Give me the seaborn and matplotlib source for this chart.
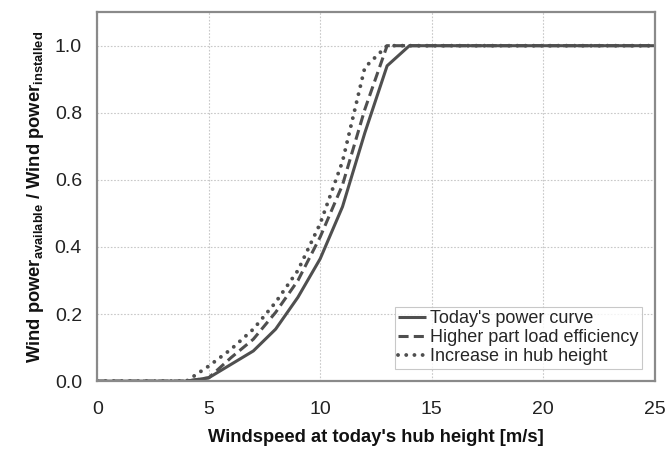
import matplotlib
matplotlib.use("Agg")
import matplotlib.pyplot as plt
import seaborn as sns
import pandas as pd

windspeed = list(range(0, 26))
todays_curve = [0, 0, 0, 0, 0, 0.01, 0.05, 0.09, 0.155, 0.25, 0.365, 0.52, 0.74, 0.94,
                1, 1, 1, 1, 1, 1, 1, 1, 1, 1, 1, 1]
part_load = [0, 0, 0, 0, 0, 0.01, 0.07, 0.125, 0.205, 0.30, 0.43, 0.585, 0.81, 1,
             1, 1, 1, 1, 1, 1, 1, 1, 1, 1, 1, 1]
hub_height = [0, 0, 0, 0, 0, 0.045, 0.095, 0.155, 0.235, 0.33, 0.47, 0.655, 0.935, 1,
              1, 1, 1, 1, 1, 1, 1, 1, 1, 1, 1, 1]
series_names = ["Today's power curve", "Higher part load efficiency", "Increase in hub height"]
x_ticks = [0, 5, 10, 15, 20, 25]
y_ticks = [0.0, 0.2, 0.4, 0.6, 0.8, 1.0]

sns.set_theme(style="white")
plt.rcParams["font.family"] = ["Liberation Sans", "DejaVu Sans"]
plt.rcParams["mathtext.fontset"] = "custom"
plt.rcParams["mathtext.rm"] = "Liberation Sans"

df = pd.DataFrame({
    "ws": windspeed * 3,
    "p": todays_curve + part_load + hub_height,
    "curve": [series_names[0]] * 26 + [series_names[1]] * 26 + [series_names[2]] * 26,
})

fig = plt.figure(figsize=(6.66, 4.5), dpi=100)
ax = fig.add_axes([0.146, 0.153, 0.837, 0.82])

line_col = "#4f4f4f"
styles = {
    series_names[0]: dict(linestyle="-", solid_capstyle="butt", linewidth=2.2),
    series_names[1]: dict(linestyle=(0, (3.3, 1.7)), dash_capstyle="butt", linewidth=2.2),
    series_names[2]: dict(linestyle=(0, (0.01, 2.1)), dash_capstyle="round", linewidth=2.8),
}
for name in series_names:
    sub = df[df["curve"] == name]
    sns.lineplot(data=sub, x="ws", y="p", ax=ax, color=line_col, label=name, **styles[name])

ax.set_xlim(0, 25)
ax.set_ylim(0, 1.1)
ax.set_xticks(x_ticks)
ax.set_xticklabels([str(t) for t in x_ticks])
ax.set_yticks(y_ticks)
ax.set_yticklabels([f"{t:.1f}" for t in y_ticks])
ax.tick_params(axis="both", labelsize=14, labelcolor="#222222", color="#8a8a8a",
               direction="in", length=5, width=1.2)
ax.tick_params(axis="y", pad=11)
ax.tick_params(axis="x", pad=14)
ax.grid(True, color="#c8c8c8", linestyle=(0, (1.5, 1.5)), linewidth=0.8)
for s in ax.spines.values():
    s.set_color("#8a8a8a")
    s.set_linewidth(1.6)

ax.set_xlabel("Windspeed at today's hub height [m/s]", fontsize=13.2, fontweight="bold",
              labelpad=8, color="#111111")
ax.set_ylabel(r"Wind power$_{\mathregular{available}}$ / Wind power$_{\mathregular{installed}}$",
              fontsize=13.2, fontweight="bold", labelpad=6, color="#111111")

leg = ax.legend(loc="lower right", fontsize=13, frameon=True, fancybox=False,
                edgecolor="#bbbbbb", handlelength=1.55, handletextpad=0.2,
                borderaxespad=0.7, labelspacing=0.1, borderpad=0.2)
leg.get_frame().set_linewidth(0.8)

fig.savefig("out.png", dpi=100)
